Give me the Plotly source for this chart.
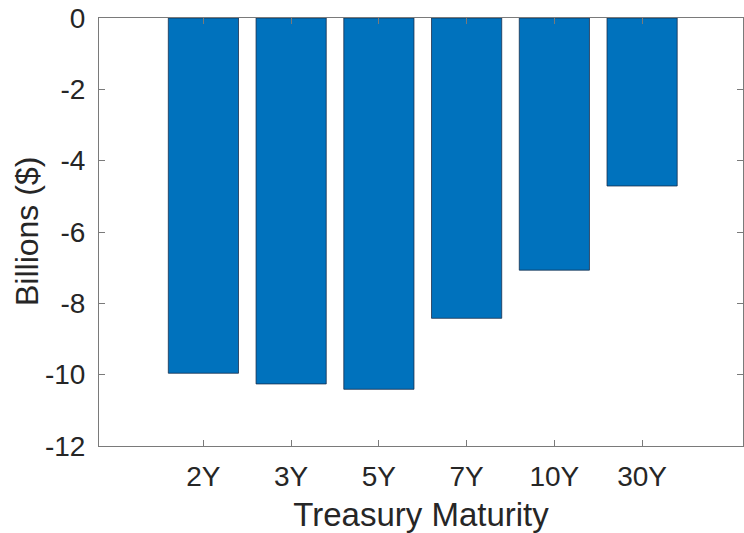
import plotly.graph_objects as go

# Net change by Treasury maturity, in billions of dollars
maturities = ["2Y", "3Y", "5Y", "7Y", "10Y", "30Y"]
change_billions = [-9.96, -10.26, -10.41, -8.42, -7.07, -4.71]
y_tick_values = [0, -2, -4, -6, -8, -10, -12]

AXIS_COLOR = "#7a7a7a"
TEXT_COLOR = "#262626"
FONT = "Liberation Sans, Arial, sans-serif"

PLOT_LEFT = 99
PLOT_WIDTH = 744 - 99 - 1

fig = go.Figure(
    go.Bar(
        x=list(range(len(maturities))),
        y=change_billions,
        width=0.8,
        marker=dict(color="#0072BD", line=dict(color="rgba(20,40,70,0.75)", width=1)),
    )
)

fig.update_layout(
    width=744,
    height=533,
    margin=dict(l=PLOT_LEFT, r=1, t=18, b=87),
    plot_bgcolor="white",
    paper_bgcolor="white",
    font=dict(family=FONT, color=TEXT_COLOR),
    showlegend=False,
)

fig.update_xaxes(
    range=[-1.19, 6.15],
    tickmode="array",
    tickvals=list(range(len(maturities))),
    ticktext=maturities,
    ticks="inside",
    ticklen=6,
    tickcolor=AXIS_COLOR,
    showline=True,
    linecolor=AXIS_COLOR,
    linewidth=1,
    mirror="ticks",
    showgrid=False,
    zeroline=False,
    ticklabelstandoff=5,
    tickfont=dict(size=28, color=TEXT_COLOR),
    title=dict(text="Treasury Maturity", font=dict(size=33, color=TEXT_COLOR), standoff=12),
)

fig.update_yaxes(
    range=[-12, 0],
    tickmode="array",
    tickvals=y_tick_values,
    ticktext=[str(v) for v in y_tick_values],
    ticks="inside",
    ticklen=6,
    tickcolor=AXIS_COLOR,
    showline=True,
    linecolor=AXIS_COLOR,
    linewidth=1,
    mirror="ticks",
    showgrid=False,
    zeroline=False,
    ticklabelstandoff=7,
    tickfont=dict(size=28, color=TEXT_COLOR),
)

# Y-axis title placed as a rotated annotation
fig.add_annotation(
    text="Billions ($)",
    xref="paper",
    yref="paper",
    x=(27 - PLOT_LEFT) / PLOT_WIDTH,
    y=0.5,
    xanchor="center",
    yanchor="middle",
    textangle=-90,
    showarrow=False,
    font=dict(size=32, color=TEXT_COLOR, family=FONT),
)

fig.write_html("out.html")
